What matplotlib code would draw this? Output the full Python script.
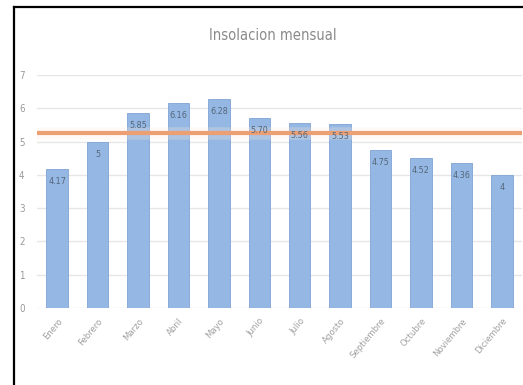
import matplotlib
matplotlib.use("Agg")
import matplotlib.pyplot as plt
from matplotlib.lines import Line2D

months = ["Enero", "Febrero", "Marzo", "Abril", "Mayo", "Junio", "Julio",
          "Agosto", "Septiembre", "Octubre", "Noviembre", "Diciembre"]
values = [4.17, 5, 5.85, 6.16, 6.28, 5.70, 5.56, 5.53, 4.75, 4.52, 4.36, 4]
value_labels = ["4.17", "5", "5.85", "6.16", "6.28", "5.70", "5.56", "5.53",
                "4.75", "4.52", "4.36", "4"]
reference_value = 5.27
yticks = [0, 1, 2, 3, 4, 5, 6, 7]

plt.rcParams['font.family'] = ['DejaVu Sans']
plt.rcParams['font.stretch'] = 'condensed'

W, H = 523, 385
fig = plt.figure(figsize=(W / 100, H / 100), dpi=100)
fig.patch.set_facecolor("white")

left, right = 37 / W, 522 / W
bottom, top = 1 - 308 / H, 1 - 75 / H
ax = fig.add_axes([left, bottom, right - left, top - bottom])
ax.set_facecolor("white")

x = list(range(len(months)))
ax.bar(x, values, width=0.53, color="#94B8E3", edgecolor="#80A4D4",
       linewidth=0.6, zorder=2)

# reference line with soft halo
ax.axhline(reference_value, color="#FCEBDD", linewidth=9, zorder=3, alpha=0.25)
ax.axhline(reference_value, color="#EC9F72", linewidth=3, zorder=4)

for xi, v, lab in zip(x, values, value_labels):
    ax.text(xi, v - 0.38, lab, ha="center", va="center", fontsize=6.5,
            color="#55667A", zorder=5, fontstretch='condensed')

ax.set_xlim(-0.5, len(months) - 0.5)
ax.set_ylim(0, 7)
ax.set_yticks(yticks)
ax.set_yticklabels([str(t) for t in yticks], fontsize=7, color="#999999")
ax.set_xticks(x)
ax.set_xticklabels(months, rotation=50, ha="right", rotation_mode="anchor",
                   fontsize=6.8, color="#A0A0A0")
ax.tick_params(axis="y", length=0, pad=9)
ax.tick_params(axis="x", length=0, pad=6)
ax.yaxis.grid(True, color="#E6E6E6", linewidth=1, zorder=0)
ax.set_axisbelow(True)
for s in ax.spines.values():
    s.set_visible(False)

fig.text(273 / W, 1 - 36 / H, "Insolacion mensual", ha="center", va="center",
         fontsize=10.5, color="#8A8A8A", fontstretch='condensed')

# black frame edges (left and top)
fig.add_artist(Line2D([14 / W, 14 / W], [0, 1 - 7 / H], color="black",
                      linewidth=1.6, transform=fig.transFigure))
fig.add_artist(Line2D([14 / W, 1], [1 - 7 / H, 1 - 7 / H], color="black",
                      linewidth=1.6, transform=fig.transFigure))

fig.savefig("out.png", dpi=100, facecolor="white")
